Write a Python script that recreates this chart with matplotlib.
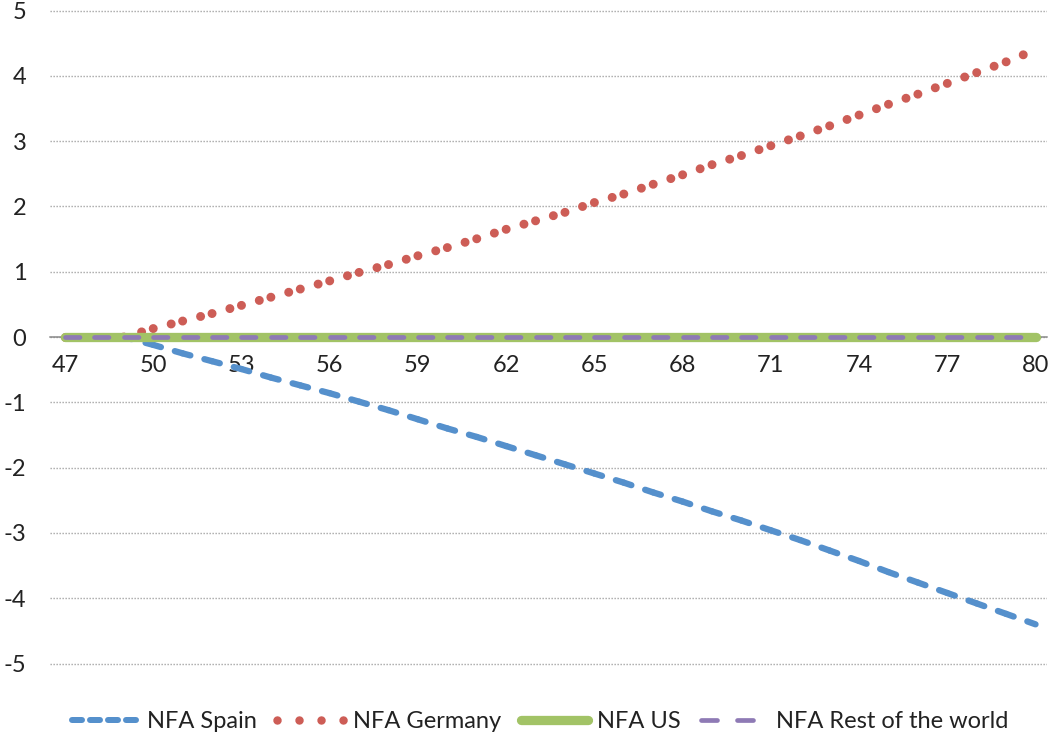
import matplotlib
matplotlib.use("Agg")
import matplotlib.pyplot as plt
from matplotlib.lines import Line2D

# --- data ---
years = list(range(47, 81))
nfa_spain = [0, 0, 0,
             -0.12, -0.25, -0.37, -0.49, -0.62, -0.74, -0.86, -0.99, -1.12, -1.26,
             -1.40, -1.53, -1.67, -1.81, -1.95, -2.09, -2.23, -2.38, -2.52, -2.67,
             -2.81, -2.96, -3.11, -3.27, -3.43, -3.60, -3.76, -3.92, -4.08, -4.24, -4.40]
nfa_germany = [0, 0, 0,
               0.13, 0.245, 0.36, 0.485, 0.61, 0.735, 0.86, 0.99, 1.11, 1.245,
               1.37, 1.505, 1.65, 1.78, 1.91, 2.06, 2.19, 2.34, 2.485, 2.64,
               2.78, 2.93, 3.08, 3.235, 3.40, 3.565, 3.72, 3.885, 4.05, 4.215, 4.40]
nfa_us = [0] * len(years)
nfa_row = [0] * len(years)

x_ticks = list(range(47, 81, 3))
y_ticks = list(range(-5, 6))
y_labels = [str(v) for v in y_ticks]
series_names = ["NFA Spain", "NFA Germany", "NFA US", "NFA Rest of the world"]

C_SPAIN = "#5590CC"
C_GER = "#CD5D56"
C_US = "#A2C366"
C_ROW = "#8E7AB5"
TXT = "#222222"
PX = 0.72  # points per pixel at dpi 100
FS = 17

plt.rcParams["font.family"] = ["Lato", "DejaVu Sans"]
plt.rcParams["lines.scale_dashes"] = False


def seg_plot(ax, x, y, **kw):
    # Excel restarts the dash pattern at every data point
    for i in range(len(x) - 1):
        ax.plot(x[i:i + 2], y[i:i + 2], **kw)


fig = plt.figure(figsize=(10.51, 7.38), dpi=100)
ax = fig.add_axes([50 / 1051, 0.0921, 997 / 1051, 0.9024])

seg_plot(ax, years, nfa_spain, color=C_SPAIN, lw=6.3 * PX,
         ls=(0, (8 * PX, 14.5 * PX, 16 * PX, 300)), dash_capstyle="round", zorder=3)
seg_plot(ax, years, nfa_germany, color=C_GER, lw=9 * PX,
         ls=(0, (0.01, 18.5 * PX, 0.01, 300)), dash_capstyle="round", zorder=3)
ax.plot(years, nfa_us, color=C_US, lw=9.3 * PX, solid_capstyle="round", zorder=4)
seg_plot(ax, years, nfa_row, color=C_ROW, lw=4.7 * PX,
         ls=(0, (14.5 * PX, 300)), dash_capstyle="round", zorder=5)

ax.set_xlim(46.49, 80.39)
ax.set_ylim(-5.1, 5.1)
ax.set_xticks(x_ticks)
ax.set_xticklabels([str(v) for v in x_ticks])
ax.set_yticks(y_ticks)
ax.set_yticklabels(y_labels)

for s in ["top", "right", "left"]:
    ax.spines[s].set_visible(False)
ax.spines["bottom"].set_position(("data", 0))
ax.spines["bottom"].set_color("#878787")
ax.spines["bottom"].set_linewidth(1.5 * PX)
ax.spines["bottom"].set_zorder(2)

ax.tick_params(axis="x", length=0, pad=13, labelsize=FS, labelcolor=TXT)
ax.tick_params(axis="y", length=0, pad=17, labelsize=FS, labelcolor=TXT)
ax.yaxis.grid(True, color="#A0A0A0", lw=1.4 * PX, ls=(0, (1.3 * PX, 1.7 * PX)))
ax.set_axisbelow(True)

handles = [
    Line2D([], [], color=C_SPAIN, lw=6 * PX, ls=(0, (10 * PX, 8 * PX)), dash_capstyle="round"),
    Line2D([], [], color=C_GER, lw=8.5 * PX, ls=(0, (0.01, 22 * PX)), dash_capstyle="round"),
    Line2D([], [], color=C_US, lw=9.3 * PX, solid_capstyle="round"),
    Line2D([], [], color=C_ROW, lw=4.7 * PX, ls=(0, (16 * PX, 20 * PX)), dash_capstyle="round"),
]
fig.legend(handles, series_names, loc="center", bbox_to_anchor=(0.514, 0.022),
           ncol=4, frameon=False, fontsize=FS, handlelength=2.85,
           handletextpad=0.35, columnspacing=0.85, labelcolor=TXT)

fig.savefig("out.png", dpi=100)
